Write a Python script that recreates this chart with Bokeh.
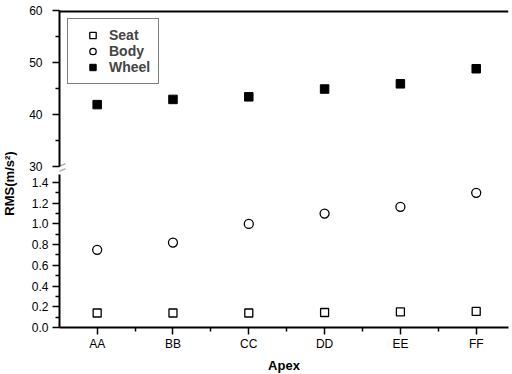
import math
from bokeh.plotting import figure
from bokeh.layouts import column, row
from bokeh.models import (FixedTicker, NumeralTickFormatter, Span,
                          PolyAnnotation, Range1d, Legend, LegendItem)
from bokeh.core.properties import value
from bokeh.embed import file_html
from bokeh.resources import INLINE

# ---- data ----
categories = ["AA", "BB", "CC", "DD", "EE", "FF"]
seat = [0.14, 0.14, 0.14, 0.145, 0.15, 0.155]
body = [0.75, 0.82, 1.00, 1.10, 1.165, 1.30]
wheel = [41.9, 42.9, 43.4, 44.9, 45.9, 48.8]
upper_ticks = [30, 40, 50, 60]
upper_minor = [35, 45, 55]
lower_ticks = [0.0, 0.2, 0.4, 0.6, 0.8, 1.0, 1.2, 1.4]
lower_minor = [0.1, 0.3, 0.5, 0.7, 0.9, 1.1, 1.3]
x_title = "Apex"
y_title = "RMS(m/s²)"

xs = list(range(1, len(categories) + 1))
x_minor = [x + 0.5 for x in xs[:-1]]
FONT = "Liberation Sans"
NAN = float("nan")

x_range = Range1d(0.503, 6.426)
LEFT = 41


def style_axis(a, standoff):
    a.axis_line_width = 2
    a.major_tick_line_width = 1.5
    a.minor_tick_line_width = 1.5
    a.major_tick_in = 0
    a.major_tick_out = 7
    a.minor_tick_in = 0
    a.minor_tick_out = 4
    a.major_label_standoff = standoff
    a.major_label_text_font = FONT
    a.major_label_text_font_size = "12px"
    a.major_label_text_color = "black"


# ---------------- y-axis title strip ----------------
pl = figure(frame_width=18, frame_height=366, x_range=Range1d(0, 1),
            y_range=Range1d(0, 1), output_backend="svg",
            toolbar_location=None, min_border_left=0, min_border_right=0,
            min_border_top=0, min_border_bottom=7)
pl.axis.visible = False
pl.grid.visible = False
pl.outline_line_color = None
pl.text(x=[0.5], y=[0.5], text=[y_title], angle=math.pi / 2,
        text_align="center", text_baseline="middle",
        text_font=value(FONT), text_font_style="bold",
        text_font_size="13px", text_color="black")

# ---------------- upper panel (Wheel) ----------------
p1 = figure(frame_width=449, frame_height=164, x_range=x_range,
            y_range=Range1d(28.46, 60), output_backend="svg",
            toolbar_location=None, min_border_left=LEFT, min_border_right=1,
            min_border_top=10, min_border_bottom=0)
p1.xaxis.visible = False
p1.grid.visible = False
p1.outline_line_color = None

ax = p1.yaxis[0]
ax.ticker = FixedTicker(ticks=upper_ticks, minor_ticks=upper_minor)
ax.formatter = NumeralTickFormatter(format="0")
ax.bounds = (upper_ticks[0], upper_ticks[-1])
style_axis(ax, 10)

r_wheel = p1.scatter(xs, wheel, marker="square", size=8.5,
                     fill_color="black", line_color="black")
# legend-only proxies for the lower-panel series
r_seat_leg = p1.scatter([xs[0]], [NAN], marker="square", size=8,
                        fill_color="white", line_color="black", line_width=1.3)
r_body_leg = p1.scatter([xs[0]], [NAN], marker="circle", size=9,
                        fill_color="white", line_color="black", line_width=1.3)

p1.add_layout(Span(location=upper_ticks[-1], dimension="width",
                   line_color="black", line_width=4))

# axis break marks (screen offsets from the frame's bottom-left corner)
for dy in (5, 0):
    p1.add_layout(PolyAnnotation(xs=[-8.3, 6], ys=[dy, dy + 5.7],
                                 xs_units="screen", ys_units="screen",
                                 fill_alpha=0, line_color="black",
                                 line_width=1.5))

legend = Legend(items=[LegendItem(label="Seat", renderers=[r_seat_leg]),
                       LegendItem(label="Body", renderers=[r_body_leg]),
                       LegendItem(label="Wheel", renderers=[r_wheel])],
                location="top_left")
legend.margin = 8
legend.padding = 8
legend.spacing = 0
legend.label_height = 16
legend.glyph_height = 16
legend.glyph_width = 33
legend.label_standoff = 0
legend.label_text_font = FONT
legend.label_text_font_style = "bold"
legend.label_text_font_size = "14px"
legend.border_line_color = "black"
legend.border_line_width = 1.5
legend.background_fill_alpha = 1
p1.add_layout(legend)

# ---------------- lower panel (Seat, Body) ----------------
p2 = figure(frame_width=449, frame_height=153, x_range=x_range,
            y_range=Range1d(0, 1.477), output_backend="svg",
            toolbar_location=None, min_border_left=LEFT, min_border_right=1,
            min_border_top=0, min_border_bottom=46)
p2.grid.visible = False
p2.outline_line_color = None

ay = p2.yaxis[0]
ay.ticker = FixedTicker(ticks=lower_ticks, minor_ticks=lower_minor)
ay.formatter = NumeralTickFormatter(format="0.0")
style_axis(ay, 4)

bx = p2.xaxis[0]
bx.ticker = FixedTicker(ticks=xs, minor_ticks=x_minor)
bx.major_label_overrides = {x: c for x, c in zip(xs, categories)}
style_axis(bx, 2)
bx.axis_label = x_title
bx.axis_label_text_font = FONT
bx.axis_label_text_font_style = "bold"
bx.axis_label_text_font_size = "13px"
bx.axis_label_text_color = "black"
bx.axis_label_standoff = 4

p2.scatter(xs, seat, marker="square", size=8, fill_color="white",
           line_color="black", line_width=1.3)
p2.scatter(xs, body, marker="circle", size=9, fill_color="white",
           line_color="black", line_width=1.3)

layout = row(pl, column(p1, p2, spacing=0), spacing=0)

with open("out.html", "w") as f:
    f.write(file_html(layout, INLINE))
